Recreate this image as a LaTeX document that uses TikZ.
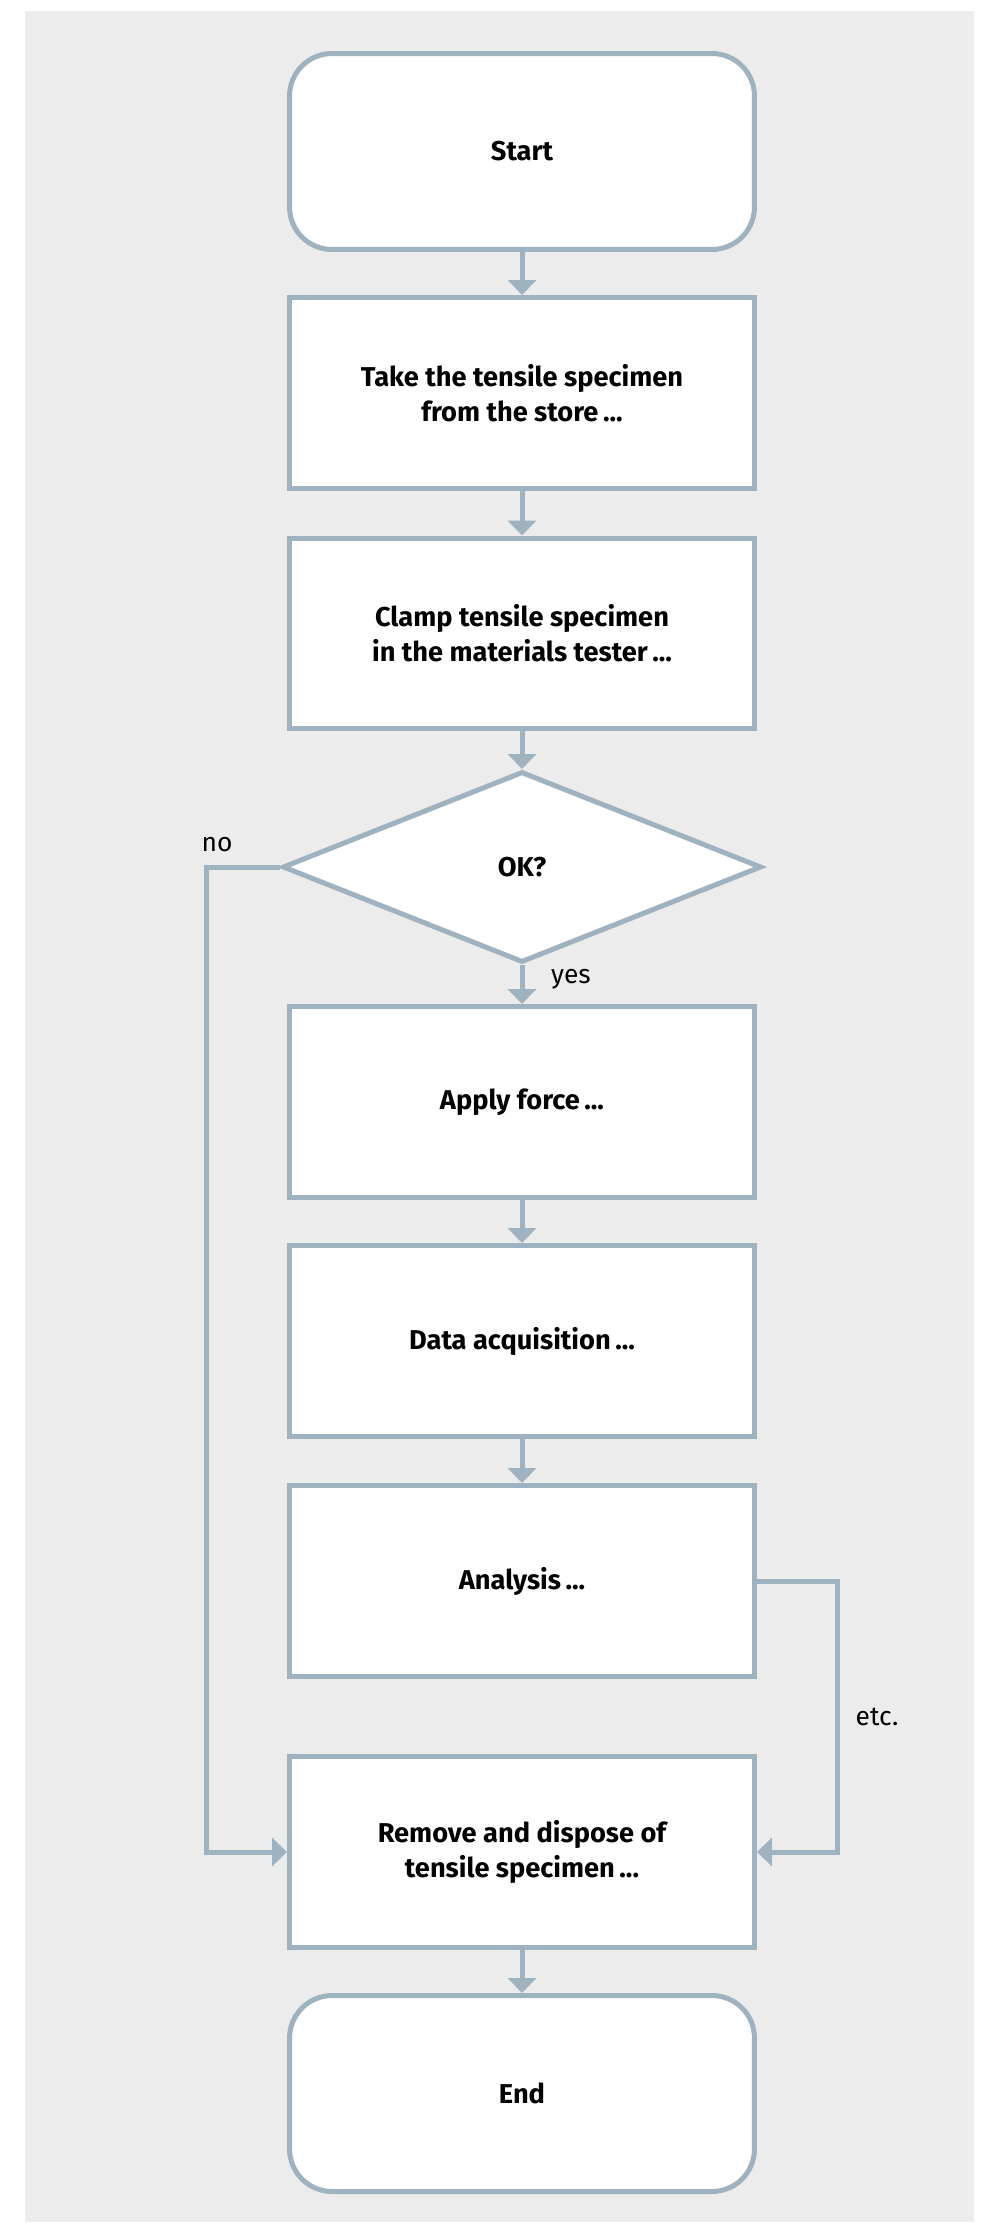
\documentclass[tikz,border=0pt]{standalone}
\usepackage{fontspec}
\setmainfont{Fira Sans}
\usetikzlibrary{shapes.geometric,arrows.meta,positioning}

\definecolor{flowgray}{RGB}{159,178,191}
\definecolor{sheetgray}{RGB}{236,236,236}

\begin{document}
\begin{tikzpicture}[x=0.02cm, y=-0.02cm,
  stepbox/.style={draw=flowgray, line width=0.1cm, fill=white,
    minimum width=9.3cm, minimum height=3.82cm, align=center,
    font=\fontsize{15.5}{20}\selectfont\bfseries},
  termbox/.style={stepbox, rounded corners=0.85cm, minimum height=3.92cm},
  askbox/.style={stepbox, shape=diamond, aspect=2.5, inner sep=0pt,
    minimum width=9.58cm, minimum height=3.82cm},
  flow/.style={draw=flowgray, line width=0.1cm,
    -{Triangle[length=0.3cm,width=0.56cm]}},
  answer/.style={font=\fontsize{15}{18}\selectfont}
]

\pgfmathsetmacro{\mid}{522}

% SHEET
\useasboundingbox (0,0) rectangle (998,2233);
\fill[sheetgray] (25,11) rectangle (974,2222);

% NODES
\node(start)[termbox]    at (\mid,151.5) {Start};
\node(take)[stepbox]     at (\mid,393)   {Take the tensile specimen\\from the store\,...};
\node(clamp)[stepbox]    at (\mid,633.5) {Clamp tensile specimen\\in the materials tester\,...};
\node(ok)[askbox]        at (\mid,867)   {OK?};
\node(apply)[stepbox]    at (\mid,1102)  {Apply force\,...};
\node(data)[stepbox]     at (\mid,1341)  {Data acquisition\,...};
\node(analysis)[stepbox] at (\mid,1581)  {Analysis\,...};
\node(remove)[stepbox]   at (\mid,1852)  {Remove and dispose of\\tensile specimen\,...};
\node(end)[termbox]      at (\mid,2093.5) {End};

\coordinate(nobend)  at (206,867);
\coordinate(etcbend) at (837,1581);

% CONNECTORS
\draw[flow] (start) -- (take);
\draw[flow] (take) -- (clamp);
\draw[flow] (clamp) -- (ok);
\draw[flow] (ok) -- (apply);
\draw[flow] (apply) -- (data);
\draw[flow] (data) -- (analysis);
\draw[flow] (remove) -- (end);

\draw[flow] (ok.west) -- (nobend) |- (remove.west);
\draw[flow] (analysis.east) -- (etcbend) |- (remove.east);

% LABELS
\node(nolabel)[answer]  at (217,845)  {no};
\node(yeslabel)[answer] at (571,979)  {yes};
\node(etclabel)[answer] at (877,1717) {etc.};

\end{tikzpicture}
\end{document}
